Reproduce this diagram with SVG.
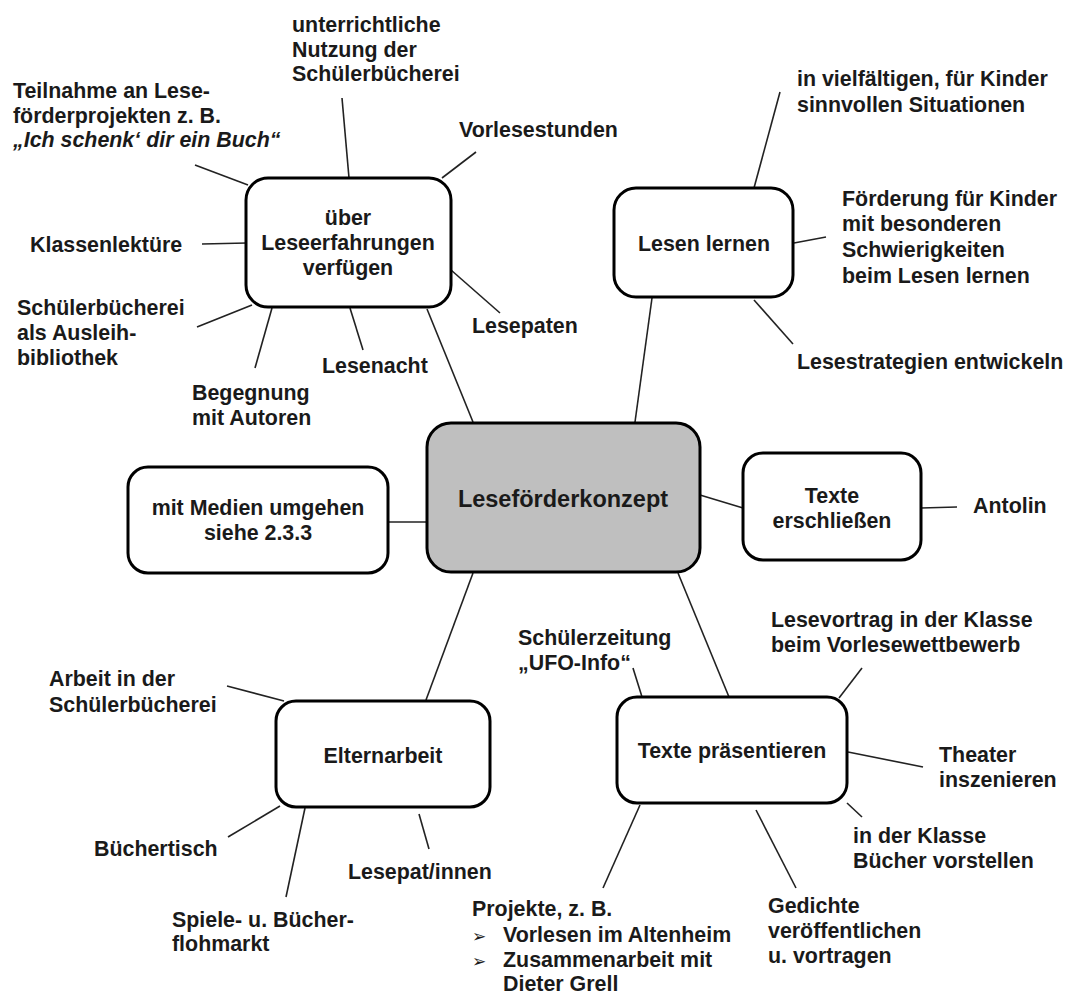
<svg xmlns="http://www.w3.org/2000/svg" width="1065" height="994" viewBox="0 0 1065 994">
<style>
text{font-family:"Liberation Sans",Arial,sans-serif;font-weight:bold;font-size:21.4px;fill:#1a1a1a}
.c{text-anchor:middle}
.bul{font-family:"DejaVu Sans",sans-serif;font-size:17px;font-weight:normal}
.box{fill:#fff;stroke:#000;stroke-width:3}
.main{fill:#bfbfbf;stroke:#000;stroke-width:3}
.ln{stroke:#222;stroke-width:1.6;fill:none}
</style>
<rect width="1065" height="994" fill="#fff"/>
<g id="connectors">
<line class="ln" x1="473" y1="422" x2="427" y2="309"/>
<line class="ln" x1="635" y1="422" x2="652" y2="298"/>
<line class="ln" x1="388" y1="522" x2="427" y2="522"/>
<line class="ln" x1="700" y1="495" x2="743" y2="508"/>
<line class="ln" x1="473" y1="573" x2="426" y2="700"/>
<line class="ln" x1="678" y1="573" x2="729" y2="697"/>
<line class="ln" x1="342" y1="98" x2="349" y2="178"/>
<line class="ln" x1="195" y1="165" x2="248" y2="185"/>
<line class="ln" x1="476" y1="152" x2="442" y2="178"/>
<line class="ln" x1="202" y1="244" x2="247" y2="243"/>
<line class="ln" x1="197" y1="327" x2="252" y2="305"/>
<line class="ln" x1="255" y1="368" x2="272" y2="308"/>
<line class="ln" x1="363" y1="350" x2="350" y2="308"/>
<line class="ln" x1="500" y1="313" x2="451" y2="270"/>
<line class="ln" x1="780" y1="92" x2="754" y2="188"/>
<line class="ln" x1="794" y1="243" x2="826" y2="237"/>
<line class="ln" x1="754" y1="300" x2="793" y2="344"/>
<line class="ln" x1="921" y1="508" x2="957" y2="507"/>
<line class="ln" x1="227" y1="686" x2="284" y2="701"/>
<line class="ln" x1="228" y1="837" x2="280" y2="806"/>
<line class="ln" x1="305" y1="808" x2="286" y2="897"/>
<line class="ln" x1="419" y1="814" x2="429" y2="849"/>
<line class="ln" x1="633" y1="668" x2="642" y2="697"/>
<line class="ln" x1="862" y1="668" x2="839" y2="698"/>
<line class="ln" x1="848" y1="752" x2="923" y2="767"/>
<line class="ln" x1="847" y1="803" x2="862" y2="817"/>
<line class="ln" x1="756" y1="810" x2="796" y2="888"/>
<line class="ln" x1="640" y1="805" x2="603" y2="888"/>
</g>
<g id="n-center">
<rect class="main" x="427" y="423" width="273" height="149" rx="24"/>
<text class="c" x="563" y="507" style="font-size:23.5px">Leseförderkonzept</text>
</g>
<g id="n-leseerfahrungen">
<rect class="box" x="246" y="178" width="205" height="129" rx="22"/>
<text class="c" x="348" y="225">über</text>
<text class="c" x="348" y="250">Leseerfahrungen</text>
<text class="c" x="348" y="275">verfügen</text>
</g>
<g id="n-lesenlernen">
<rect class="box" x="614" y="188" width="179" height="109" rx="22"/>
<text class="c" x="704" y="251">Lesen lernen</text>
</g>
<g id="n-medien">
<rect class="box" x="128" y="467" width="260" height="106" rx="20"/>
<text class="c" x="258" y="515">mit Medien umgehen</text>
<text class="c" x="258" y="540">siehe 2.3.3</text>
</g>
<g id="n-erschliessen">
<rect class="box" x="743" y="453" width="178" height="107" rx="20"/>
<text class="c" x="832" y="503">Texte</text>
<text class="c" x="832" y="528">erschließen</text>
</g>
<g id="n-elternarbeit">
<rect class="box" x="276" y="701" width="214" height="106" rx="20"/>
<text class="c" x="383" y="763">Elternarbeit</text>
</g>
<g id="n-praesentieren">
<rect class="box" x="617" y="697" width="230" height="106" rx="20"/>
<text class="c" x="732" y="758">Texte präsentieren</text>
</g>
<g id="l-unterricht">
<text x="292" y="32">unterrichtliche</text>
<text x="292" y="57">Nutzung der</text>
<text x="292" y="81">Schülerbücherei</text>
</g>
<g id="l-teilnahme">
<text x="13" y="98">Teilnahme an Lese-</text>
<text x="13" y="123">förderprojekten z. B.</text>
<text x="13" y="147" font-style="italic">„Ich schenk‘ dir ein Buch“</text>
</g>
<g id="l-vorlesestunden"><text x="459" y="137">Vorlesestunden</text></g>
<g id="l-klassenlektuere"><text x="30" y="252">Klassenlektüre</text></g>
<g id="l-schuelerbuecherei">
<text x="17" y="315">Schülerbücherei</text>
<text x="17" y="340">als Ausleih-</text>
<text x="17" y="365">bibliothek</text>
</g>
<g id="l-begegnung">
<text x="192" y="400">Begegnung</text>
<text x="192" y="425">mit Autoren</text>
</g>
<g id="l-lesenacht"><text x="322" y="373">Lesenacht</text></g>
<g id="l-lesepaten"><text x="472" y="333">Lesepaten</text></g>
<g id="l-vielfaeltig">
<text x="797" y="86">in vielfältigen, für Kinder</text>
<text x="797" y="112">sinnvollen  Situationen</text>
</g>
<g id="l-foerderung">
<text x="842" y="206">Förderung  für Kinder</text>
<text x="842" y="231">mit besonderen</text>
<text x="842" y="257">Schwierigkeiten</text>
<text x="842" y="283">beim Lesen lernen</text>
</g>
<g id="l-strategien"><text x="797" y="369">Lesestrategien entwickeln</text></g>
<g id="l-antolin"><text x="973" y="513">Antolin</text></g>
<g id="l-arbeit">
<text x="49" y="686">Arbeit in der</text>
<text x="49" y="712">Schülerbücherei</text>
</g>
<g id="l-buechertisch"><text x="94" y="856">Büchertisch</text></g>
<g id="l-flohmarkt">
<text x="172" y="927">Spiele- u. Bücher-</text>
<text x="172" y="951">flohmarkt</text>
</g>
<g id="l-lesepatinnen"><text x="348" y="879">Lesepat/innen</text></g>
<g id="l-schuelerzeitung">
<text x="518" y="645">Schülerzeitung</text>
<text x="518" y="670">„UFO-Info“</text>
</g>
<g id="l-lesevortrag">
<text x="771" y="627">Lesevortrag in der Klasse</text>
<text x="771" y="652">beim Vorlesewettbewerb</text>
</g>
<g id="l-theater">
<text x="939" y="762">Theater</text>
<text x="939" y="787">inszenieren</text>
</g>
<g id="l-vorstellen">
<text x="853" y="843">in der Klasse</text>
<text x="853" y="868">Bücher vorstellen</text>
</g>
<g id="l-gedichte">
<text x="768" y="913">Gedichte</text>
<text x="768" y="938">veröffentlichen</text>
<text x="768" y="963">u. vortragen</text>
</g>
<g id="l-projekte">
<text x="472" y="916">Projekte, z. B.</text>
<text class="bul" x="472" y="942">➢</text>
<text x="503" y="942">Vorlesen im Altenheim</text>
<text class="bul" x="472" y="967">➢</text>
<text x="503" y="967">Zusammenarbeit mit</text>
<text x="503" y="991">Dieter Grell</text>
</g>
</svg>
